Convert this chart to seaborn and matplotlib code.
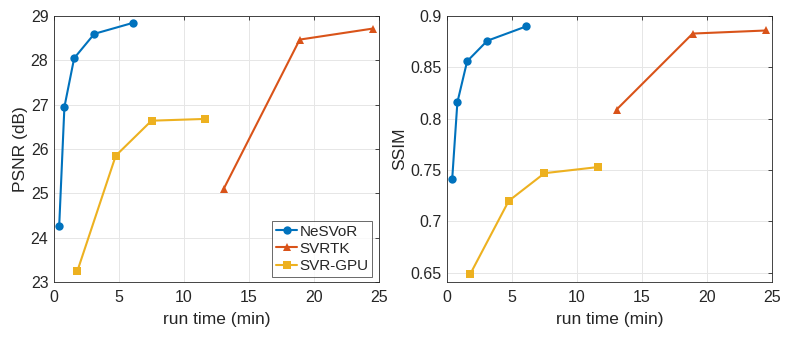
import matplotlib
matplotlib.use('Agg')
import matplotlib.pyplot as plt
import seaborn as sns
import pandas as pd

# run time (min) and metric values
methods = ['NeSVoR', 'SVRTK', 'SVR-GPU']
nesvor_t = [0.4, 0.8, 1.55, 3.1, 6.1]
nesvor_psnr = [24.27, 26.95, 28.05, 28.6, 28.85]
nesvor_ssim = [0.741, 0.816, 0.856, 0.876, 0.890]
svrtk_t = [13.05, 18.9, 24.55]
svrtk_psnr = [25.1, 28.47, 28.72]
svrtk_ssim = [0.809, 0.883, 0.886]
svrgpu_t = [1.8, 4.75, 7.5, 11.65]
svrgpu_psnr = [23.25, 25.85, 26.64, 26.68]
svrgpu_ssim = [0.649, 0.720, 0.747, 0.753]

rows = []
for m, t, p, s in [('NeSVoR', nesvor_t, nesvor_psnr, nesvor_ssim),
                   ('SVRTK', svrtk_t, svrtk_psnr, svrtk_ssim),
                   ('SVR-GPU', svrgpu_t, svrgpu_psnr, svrgpu_ssim)]:
    for ti, pi, si in zip(t, p, s):
        rows.append({'method': m, 'time': ti, 'psnr': pi, 'ssim': si})
df = pd.DataFrame(rows)

sns.set_theme(style='white')
plt.rcParams['font.family'] = ['Liberation Sans', 'DejaVu Sans']

palette = {'NeSVoR': '#0072BD', 'SVRTK': '#D95319', 'SVR-GPU': '#EDB120'}
markers = {'NeSVoR': 'o', 'SVRTK': '^', 'SVR-GPU': 's'}

fig = plt.figure(figsize=(7.85, 3.37), dpi=100, facecolor='white')
ax1 = fig.add_axes([0.0688, 0.1632, 0.414, 0.789])
ax2 = fig.add_axes([0.5694, 0.1632, 0.414, 0.789])

for ax, col, ylim, yticks, ylab in [
        (ax1, 'psnr', (23, 29), [23, 24, 25, 26, 27, 28, 29], 'PSNR (dB)'),
        (ax2, 'ssim', (0.641, 0.9), [0.65, 0.7, 0.75, 0.8, 0.85, 0.9], 'SSIM')]:
    sns.lineplot(data=df, x='time', y=col, hue='method', style='method',
                 hue_order=methods, style_order=methods,
                 palette=palette, markers=markers, dashes=False,
                 markersize=6, markeredgewidth=0, linewidth=1.5,
                 sort=False, ax=ax, legend=(ax is ax1))
    ax.set_xlim(0, 25)
    ax.set_ylim(*ylim)
    ax.set_xticks([0, 5, 10, 15, 20, 25])
    ax.set_yticks(yticks)
    ax.set_yticklabels(['{:g}'.format(v) for v in yticks])
    ax.grid(True, color='#e6e6e6', linewidth=0.7)
    ax.set_axisbelow(True)
    for sp in ax.spines.values():
        sp.set_color('#262626')
        sp.set_linewidth(0.6)
    ax.tick_params(direction='in', length=3, width=0.6, colors='#262626',
                   labelsize=11.5, top=True, right=True)
    ax.tick_params(axis='x', pad=6)
    ax.tick_params(axis='y', pad=4)
    ax.set_xlabel('run time (min)', fontsize=12.5, color='#262626', labelpad=5)
    ax.set_ylabel(ylab, fontsize=12.5, color='#262626', labelpad=2)

leg = ax1.legend(loc='lower right', bbox_to_anchor=(0.98, 0.02), fontsize=11,
                 frameon=True, fancybox=False, handlelength=1.4,
                 handletextpad=0.15, borderpad=0.25, labelspacing=0.2,
                 borderaxespad=0.0)
leg.get_frame().set_edgecolor('#262626')
leg.get_frame().set_linewidth(0.6)
for t in leg.get_texts():
    t.set_color('#262626')

fig.savefig('out.png', dpi=100, facecolor='white')
